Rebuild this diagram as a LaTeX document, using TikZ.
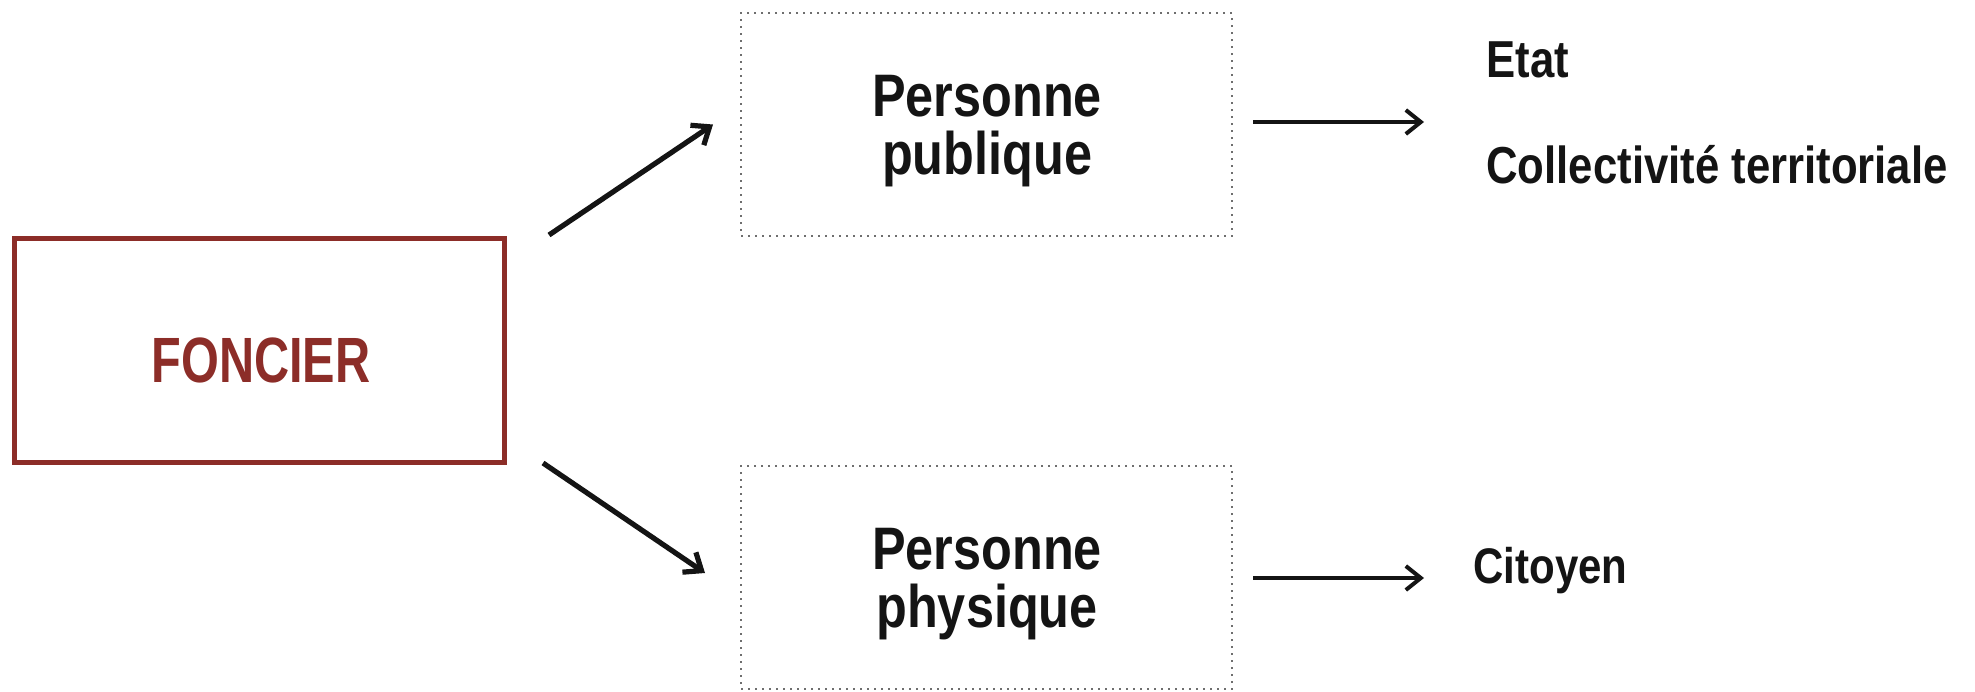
\documentclass[tikz,border=0pt]{standalone}
\usepackage{fontspec}
\setmainfont{Liberation Sans}
\newfontfamily\condfont{Liberation Sans Bold}[FakeStretch=0.84]
\newfontfamily\redfont{Liberation Sans Bold}[FakeStretch=0.76]
\usetikzlibrary{arrows.meta}
\definecolor{fred}{RGB}{140,45,40}
\definecolor{ink}{RGB}{20,20,20}
\definecolor{dotgray}{RGB}{110,110,110}
\tikzset{
  redbox/.style={draw=fred, line width=2.5pt, minimum width=245pt, minimum height=112pt, inner sep=0pt},
  dotbox/.style={draw=dotgray, line width=1pt, dash pattern=on 1pt off 2.5pt, minimum width=245.5pt, minimum height=111.5pt, inner sep=0pt},
  redtext/.style={text=fred, font=\redfont\fontsize{32pt}{34pt}\selectfont, inner sep=0pt},
  midtext/.style={text=ink, font=\condfont\fontsize{30pt}{29pt}\selectfont, align=center, inner sep=0pt},
  sidetext/.style={text=ink, font=\condfont\fontsize{26pt}{30pt}\selectfont, inner sep=0pt, anchor=base west},
  diagarrow/.style={draw=ink, line width=2.6pt, -{Straight Barb[length=7.5pt,width=12pt]}},
  horarrow/.style={draw=ink, line width=2pt, -{Straight Barb[length=7.5pt,width=12pt]}},
}
\begin{document}
\begin{tikzpicture}[x=0.5pt,y=-0.5pt]
\useasboundingbox (0,0) rectangle (1975,691);
% main boxes
\node[redbox] (foncier) at (259.5,350.5) {};
\node[redtext] (fonciertxt) at (261,360) {FONCIER};
\node[dotbox] (publique) at (986.5,124.5) {};
\node[midtext] (publiquetxt) at (987,131) {Personne\\publique};
\node[dotbox] (physique) at (986.5,577.5) {};
\node[midtext] (physiquetxt) at (987,584) {Personne\\physique};
% right side texts
\node[sidetext] (etat) at (1486,77) {Etat};
\node[sidetext] (collect) at (1486,183) {Collectivité territoriale};
\node[sidetext, font=\condfont\fontsize{25pt}{30pt}\selectfont] (citoyen) at (1473,583) {Citoyen};
\coordinate (pubend) at (1424,122);
\coordinate (physend) at (1424,578);
% connectors
\draw[diagarrow] ([xshift=21pt,yshift=0.5pt]foncier.north east) -- ([xshift=-13.5pt]publique.west);
\draw[diagarrow] ([xshift=18pt,yshift=1pt]foncier.south east) -- ([xshift=-17.5pt,yshift=2.25pt]physique.west);
\draw[horarrow] ([xshift=10pt,yshift=1.25pt]publique.east) -- (pubend);
\draw[horarrow] ([xshift=10pt,yshift=-0.25pt]physique.east) -- (physend);
\end{tikzpicture}
\end{document}
